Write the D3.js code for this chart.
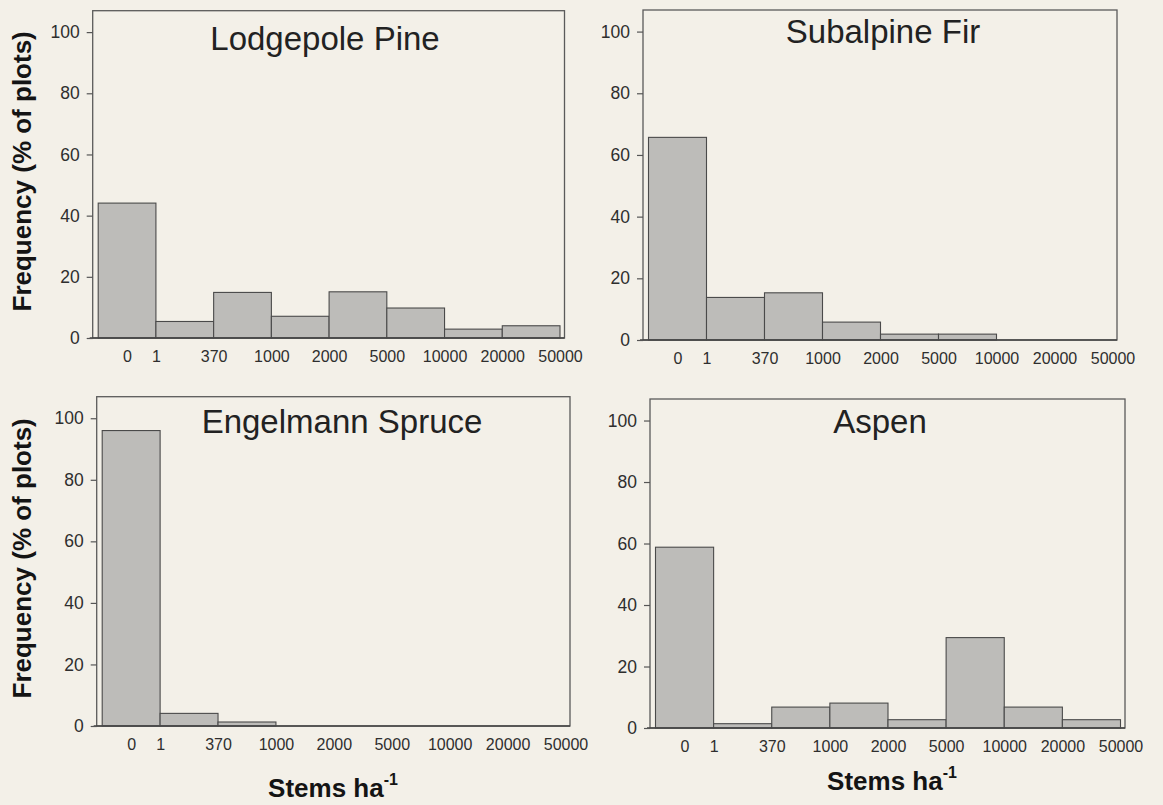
<!DOCTYPE html>
<html>
<head>
<meta charset="utf-8">
<script src="https://cdn.jsdelivr.net/npm/d3@7"></script>
<style>
  html, body { margin: 0; padding: 0; background: #f3f0e8; }
  svg { display: block; }
  text { font-family: "Liberation Sans", Arial, Helvetica, sans-serif; }
</style>
</head>
<body>
<svg id="chart" width="1163" height="805"></svg>
<script>
// ---- data ----
const categories = ["0", "1-370", "370-1000", "1000-2000", "2000-5000", "5000-10000", "10000-20000", "20000-50000"];
const tickLabels = ["0", "1", "370", "1000", "2000", "5000", "10000", "20000", "50000"];
const yTicks = [0, 20, 40, 60, 80, 100];
const lodgepolePine   = [44.1, 5.4, 14.9, 7.1, 15.1, 9.8, 2.9, 4.0];
const subalpineFir    = [65.7, 13.8, 15.3, 5.8, 1.9, 1.9, 0, 0];
const engelmannSpruce = [96.0, 4.1, 1.3, 0, 0, 0, 0, 0];
const aspen           = [58.8, 1.4, 6.8, 8.1, 2.7, 29.4, 6.8, 2.7];
const titles = ["Lodgepole Pine", "Subalpine Fir", "Engelmann Spruce", "Aspen"];
const yTitle = "Frequency (% of plots)";
const xTitle = "Stems ha";
const xTitleSup = "-1";

// ---- layout ----
const panels = [
  { values: lodgepolePine,   title: titles[0], x0: 92.7, x1: 564.5, y0: 10.7,  y1: 338, titleX: 325, titleY: 50,  yLabel: true,  xLabel: false },
  { values: subalpineFir,    title: titles[1], x0: 643,  x1: 1117,  y0: 10,    y1: 340, titleX: 883, titleY: 43,  yLabel: false, xLabel: false },
  { values: engelmannSpruce, title: titles[2], x0: 96.7, x1: 570,   y0: 396.7, y1: 726, titleX: 342, titleY: 433, yLabel: true,  xLabel: true, xLabelX: 333, xLabelY: 797 },
  { values: aspen,           title: titles[3], x0: 650,  x1: 1125,  y0: 399,   y1: 728, titleX: 880, titleY: 433, yLabel: false, xLabel: true, xLabelX: 892, xLabelY: 790 }
];
const yMax = 107;

const svg = d3.select("#chart");
svg.append("rect").attr("width", 1163).attr("height", 805).attr("fill", "#f3f0e8");

panels.forEach(p => {
  const g = svg.append("g");
  const y = d3.scaleLinear().domain([0, yMax]).range([p.y1, p.y0]);
  const xb = d3.scaleLinear().domain([0, categories.length]).range([p.x0 + 5.5, p.x1 - 4.5]);

  // bars
  g.selectAll("rect.bar")
    .data(p.values)
    .join("rect")
    .attr("class", "bar")
    .attr("x", (d, i) => xb(i))
    .attr("width", (d, i) => xb(i + 1) - xb(i))
    .attr("y", d => y(d))
    .attr("height", d => y(0) - y(d))
    .attr("fill", "#bdbcb9")
    .attr("stroke", "#4a4a4a")
    .attr("stroke-width", 1.1);

  // frame
  g.append("rect")
    .attr("x", p.x0).attr("y", p.y0)
    .attr("width", p.x1 - p.x0).attr("height", p.y1 - p.y0)
    .attr("fill", "none").attr("stroke", "#5a5a5a").attr("stroke-width", 1.3);
  // bottom axis line extended slightly left
  g.append("line")
    .attr("x1", p.x0 - 3).attr("x2", p.x1)
    .attr("y1", y(0)).attr("y2", y(0))
    .attr("stroke", "#444").attr("stroke-width", 1.5);

  // y axis
  const yAxis = d3.axisLeft(y).tickValues(yTicks).tickSize(6).tickPadding(7);
  const ya = g.append("g").attr("transform", `translate(${p.x0},0)`).call(yAxis);
  ya.select(".domain").remove();
  ya.selectAll(".tick line").attr("stroke", "#555").attr("stroke-width", 1.2);
  ya.selectAll(".tick text").attr("font-size", 17.5).attr("fill", "#2e2e2e")
    .attr("font-family", '"Liberation Sans", Arial, sans-serif');

  // x axis (labels at bin boundaries, "0" centred on first bin)
  const xPos = tickLabels.map((t, i) => i === 0 ? 0.5 : i);
  const xAxis = d3.axisBottom(xb).tickValues(xPos).tickSize(0).tickPadding(13)
    .tickFormat((d, i) => tickLabels[i]);
  const xa = g.append("g").attr("transform", `translate(0,${y(0)})`).call(xAxis);
  xa.select(".domain").remove();
  xa.selectAll(".tick text").attr("font-size", 16).attr("fill", "#2e2e2e")
    .attr("font-family", '"Liberation Sans", Arial, sans-serif');

  // title
  g.append("text")
    .attr("x", p.titleX).attr("y", p.titleY)
    .attr("text-anchor", "middle")
    .attr("font-size", 33).attr("fill", "#222")
    .text(p.title);

  if (p.yLabel) {
    g.append("text")
      .attr("transform", `translate(31,${(p.y0 + p.y1) / 2 - 3}) rotate(-90)`)
      .attr("text-anchor", "middle")
      .attr("font-size", 26).attr("font-weight", "bold").attr("fill", "#141414")
      .text(yTitle);
  }
  if (p.xLabel) {
    const t = g.append("text")
      .attr("x", p.xLabelX).attr("y", p.xLabelY)
      .attr("text-anchor", "middle")
      .attr("font-size", 26).attr("font-weight", "bold").attr("fill", "#141414");
    t.append("tspan").text(xTitle);
    t.append("tspan").attr("font-size", 16).attr("dy", -12).text(xTitleSup);
  }
});
</script>
</body>
</html>
